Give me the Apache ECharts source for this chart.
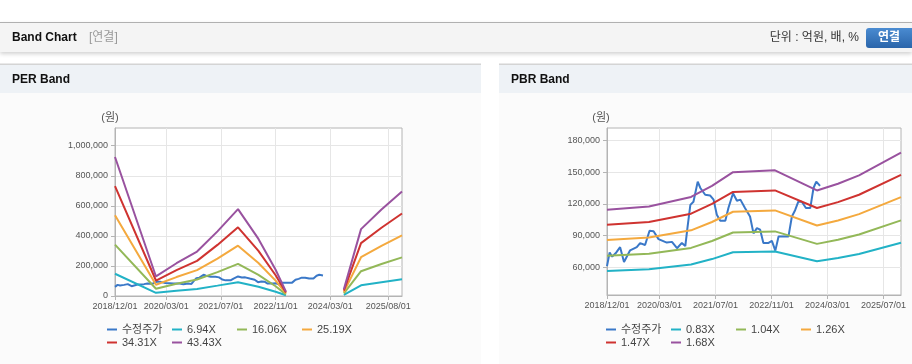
<!DOCTYPE html>
<html><head><meta charset="utf-8">
<script src="https://cdn.jsdelivr.net/npm/echarts@6/dist/echarts.min.js"></script>
<style>html,body{margin:0;padding:0;background:#fff}#c{width:912px;height:364px}</style>
</head><body><div id="c"></div>
<script>
// ---- tick labels ----
const perXTicks = ['2018/12/01','2020/03/01','2021/07/01','2022/11/01','2024/03/01','2025/08/01'];
const pbrXTicks = ['2018/12/01','2020/03/01','2021/07/01','2022/11/01','2024/03/01','2025/07/01'];
const perYTicks = [0,200000,400000,600000,800000,1000000];
const pbrYTicks = [60000,90000,120000,150000,180000];
const perNames = ['수정주가','6.94X','16.06X','25.19X','34.31X','43.43X'];
const pbrNames = ['수정주가','0.83X','1.04X','1.26X','1.47X','1.68X'];

// ---- price (shared) ----
const priceDates = ['2018/12/01','2018/12/24','2019/01/15','2019/02/20','2019/03/25','2019/04/28','2019/06/20','2019/08/17','2019/09/15','2019/10/28','2019/12/06','2020/01/10','2020/02/22','2020/05/04','2020/06/18','2020/08/01','2020/09/12','2020/10/12','2020/11/01','2020/11/25','2020/12/22','2021/01/28','2021/02/20','2021/04/03','2021/05/15','2021/06/15','2021/07/13','2021/08/12','2021/09/25','2021/10/22','2021/12/01','2022/01/04','2022/02/03','2022/03/15','2022/04/28','2022/05/28','2022/06/27','2022/07/25','2022/08/22','2022/10/06','2022/11/04','2022/12/04','2023/01/01','2023/03/28','2023/04/27','2023/05/25','2023/06/22','2023/07/22','2023/08/27','2023/10/04','2023/11/01','2023/11/25','2023/12/28'];
const priceValues = [61000,73900,70000,74000,79000,65000,76000,79000,82800,81000,94500,94000,86600,83300,84000,78000,83000,80000,98500,119000,122000,141000,135000,128600,128000,124000,109600,104000,104000,116000,130000,123000,124000,116000,108000,92000,97000,95500,83000,83000,85000,75700,89000,89000,108000,114000,122000,122000,116000,116000,135000,141000,137000];

// ---- PER bands ----
const perBandDates = ['2018/12/01','2019/12/01','2020/06/01','2020/12/01','2021/06/01','2021/12/01','2022/06/01','2022/11/01','2023/02/01','2023/06/01','2024/07/01','2024/12/01','2025/06/01','2025/12/01'];
const per694 = [148000,21000,35000,47000,69000,92000,61000,28000,5000,null,7000,71000,92000,111000];
const per1606 = [342000,48000,81000,110000,159000,214000,141000,65000,11000,null,17000,165000,213000,257000];
const per2519 = [537000,75000,126000,172000,249000,335000,220000,102000,17000,null,26000,258000,334000,403000];
const per3431 = [731000,103000,172000,234000,340000,457000,300000,138000,23000,null,36000,352000,454000,549000];
const per4343 = [925000,130000,218000,296000,430000,578000,380000,175000,29000,null,45000,445000,575000,695000];

// ---- PBR bands ----
const pbrBandDates = ['2018/12/01','2019/12/01','2020/12/01','2021/06/01','2021/12/01','2022/12/01','2023/12/01','2024/06/01','2024/12/01','2025/12/01'];
const pbr083 = [56500,58000,62500,67700,74100,74900,65600,68700,72600,83200];
const pbr104 = [70800,72700,78300,84800,92900,93900,82100,86000,91000,104300];
const pbr126 = [85800,88100,94900,102800,112500,113800,99500,104300,110300,126400];
const pbr147 = [100100,102800,110700,119900,131300,132700,116100,121600,128600,147400];
const pbr168 = [114400,117500,126500,137000,150000,151700,132700,139000,147000,168500];

const colors = ['#3a78c8','#22b2c6','#93b858','#f4a93e','#cf3330','#99529f'];
const FONT = "'Liberation Sans','Noto Sans CJK KR',sans-serif";
const ts = d => +new Date(d);
const pair = (dates, vals) => dates.map((d,i) => [ts(d), vals[i] == null ? '-' : vals[i]]);
const fmtDate = v => { const d = new Date(v); const p = n => (n<10?'0':'')+n; return d.getFullYear()+'/'+p(d.getMonth()+1)+'/'+p(d.getDate()); };
const addC = v => echarts.format.addCommas(v);

function xAxis(gi, ticks){
  const tv = ticks.map(ts);
  return {type:'value', gridIndex:gi, min:ts('2018/12/01'), max:ts('2025/12/01'),
    axisLine:{lineStyle:{color:'#b4b4b4'}},
    axisTick:{show:true, length:4, customValues:tv, lineStyle:{color:'#b4b4b4'}},
    axisLabel:{customValues:tv, formatter:fmtDate, fontSize:9, color:'#555', margin:6, fontFamily:FONT, hideOverlap:false},
    splitLine:{show:true, lineStyle:{color:'#e6e6e6'}}};
}
function yAxis(gi, min, max, ticks){
  return {type:'value', gridIndex:gi, min:min, max:max,
    axisLine:{show:true, lineStyle:{color:'#b4b4b4'}},
    axisTick:{show:true, length:4, customValues:ticks, lineStyle:{color:'#b4b4b4'}},
    axisLabel:{customValues:ticks, formatter:addC, fontSize:9, color:'#555', margin:7, fontFamily:FONT},
    splitLine:{show:true, lineStyle:{color:'#e6e6e6'}}};
}
function line(name, gi, data, ci){
  return {type:'line', name:name, xAxisIndex:gi, yAxisIndex:gi, data:data, showSymbol:false, symbol:'none',
    connectNulls:false, lineStyle:{width:2, color:colors[ci]}, itemStyle:{color:colors[ci]}, animation:false};
}
function legend(left, names){
  return {left:left, top:323, width:262, orient:'horizontal', itemGap:0, itemWidth:10, itemHeight:2, icon:'rect',
    selectedMode:false, data:names, padding:0,
    textStyle:{fontSize:11, color:'#444', width:50, lineHeight:13, fontFamily:FONT}};
}

const chart = echarts.init(document.getElementById('c'), null, {renderer:'canvas'});
chart.setOption({
  animation:false,
  backgroundColor:'#ffffff',
  textStyle:{fontFamily:FONT},
  graphic:{elements:[
    {type:'rect', z:-10, shape:{x:0,y:22,width:912,height:30}, style:{fill:'#f4f4f4', shadowBlur:4, shadowColor:'rgba(0,0,0,0.18)', shadowOffsetY:2}},
    {type:'rect', z:-9, shape:{x:0,y:22,width:912,height:1}, style:{fill:'#b0b0b0'}},
    {type:'text', z:5, style:{x:12, y:38, text:'Band Chart', font:'bold 12px '+FONT, fill:'#111', verticalAlign:'middle'}},
    {type:'text', z:5, style:{x:89, y:38, text:'[연결]', font:'12px '+FONT, fill:'#999', verticalAlign:'middle'}},
    {type:'text', z:5, style:{x:859, y:38, text:'단위 : 억원, 배, %', font:'12px '+FONT, fill:'#333', align:'right', verticalAlign:'middle'}},
    {type:'rect', z:5, shape:{x:866,y:28,width:52,height:20,r:3}, style:{fill:new echarts.graphic.LinearGradient(0,0,0,1,[{offset:0,color:'#4a8bd1'},{offset:1,color:'#2a65aa'}])}},
    {type:'text', z:6, style:{x:889, y:38, text:'연결', font:'bold 12px '+FONT, fill:'#fff', align:'center', verticalAlign:'middle'}},
    {type:'rect', z:-10, shape:{x:0,y:93,width:481,height:271}, style:{fill:'#fbfbfb'}},
    {type:'rect', z:-10, shape:{x:499,y:93,width:413,height:271}, style:{fill:'#fbfbfb'}},
    {type:'rect', z:-10, shape:{x:0,y:64,width:481,height:29}, style:{fill:'#eef2f6'}},
    {type:'rect', z:-10, shape:{x:499,y:64,width:413,height:29}, style:{fill:'#eef2f6'}},
    {type:'rect', z:-9, shape:{x:0,y:63.5,width:481,height:1.5}, style:{fill:'#d4d4d4'}},
    {type:'rect', z:-9, shape:{x:499,y:63.5,width:413,height:1.5}, style:{fill:'#d4d4d4'}},
    {type:'text', z:5, style:{x:12, y:80, text:'PER Band', font:'bold 12px '+FONT, fill:'#111', verticalAlign:'middle'}},
    {type:'text', z:5, style:{x:511, y:80, text:'PBR Band', font:'bold 12px '+FONT, fill:'#111', verticalAlign:'middle'}},
    {type:'text', z:5, style:{x:110, y:118, text:'(원)', font:'11px '+FONT, fill:'#555', align:'center', verticalAlign:'middle'}},
    {type:'text', z:5, style:{x:601, y:118, text:'(원)', font:'11px '+FONT, fill:'#555', align:'center', verticalAlign:'middle'}}
  ]},
  grid:[
    {left:115, top:128, width:287, height:168, show:true, borderColor:'#b4b4b4', borderWidth:1, backgroundColor:'#fff'},
    {left:607, top:128, width:294, height:167, show:true, borderColor:'#b4b4b4', borderWidth:1, backgroundColor:'#fff'}
  ],
  xAxis:[xAxis(0, perXTicks), xAxis(1, pbrXTicks)],
  yAxis:[yAxis(0, 0, 1118000, perYTicks), yAxis(1, 33700, 191800, pbrYTicks)],
  legend:[legend(107, perNames), legend(606, pbrNames)],
  series:[
    line('수정주가',0,pair(priceDates,priceValues),0),
    line('6.94X',0,pair(perBandDates,per694),1),
    line('16.06X',0,pair(perBandDates,per1606),2),
    line('25.19X',0,pair(perBandDates,per2519),3),
    line('34.31X',0,pair(perBandDates,per3431),4),
    line('43.43X',0,pair(perBandDates,per4343),5),
    line('수정주가',1,pair(priceDates,priceValues),0),
    line('0.83X',1,pair(pbrBandDates,pbr083),1),
    line('1.04X',1,pair(pbrBandDates,pbr104),2),
    line('1.26X',1,pair(pbrBandDates,pbr126),3),
    line('1.47X',1,pair(pbrBandDates,pbr147),4),
    line('1.68X',1,pair(pbrBandDates,pbr168),5)
  ]
});
</script></body></html>
